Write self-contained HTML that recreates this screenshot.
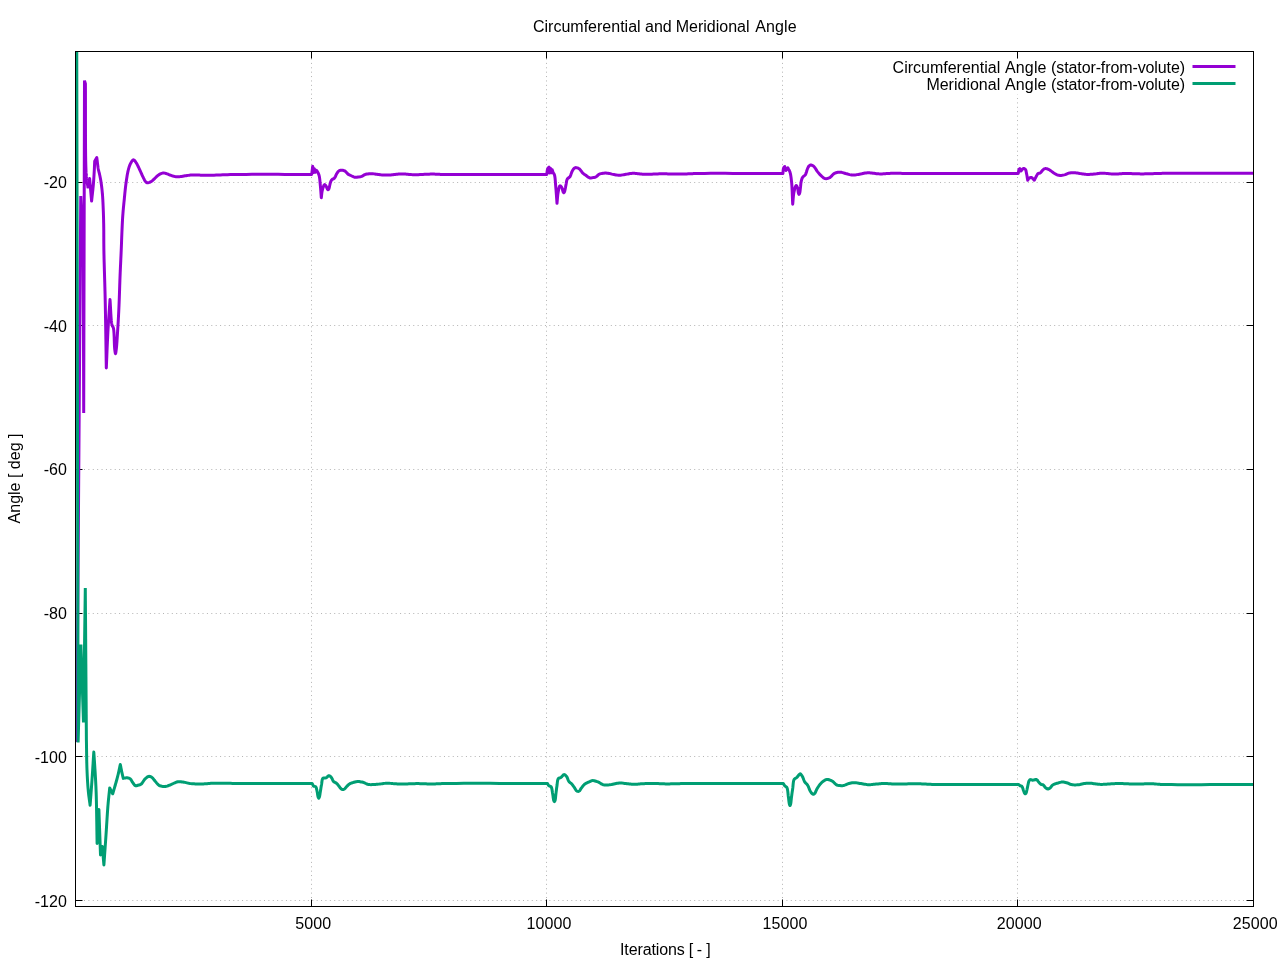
<!DOCTYPE html>
<html><head><meta charset="utf-8"><title>Circumferential and Meridional Angle</title>
<style>
html,body{margin:0;padding:0;background:#fff;}
body{width:1280px;height:960px;overflow:hidden;}
svg{display:block;will-change:transform;}
text{font-family:"Liberation Sans",sans-serif;font-size:16px;fill:#000;}
</style></head><body>
<svg width="1280" height="960" viewBox="0 0 1280 960">
<rect x="0" y="0" width="1280" height="960" fill="#ffffff"/>
<g stroke="#000" stroke-opacity="0.30" stroke-width="1" stroke-dasharray="1 3.39" fill="none">
<line x1="84.0" y1="182.5" x2="1246.5" y2="182.5"/>
<line x1="84.0" y1="325.5" x2="1246.5" y2="325.5"/>
<line x1="84.0" y1="469.5" x2="1246.5" y2="469.5"/>
<line x1="84.0" y1="613.5" x2="1246.5" y2="613.5"/>
<line x1="84.0" y1="756.5" x2="1246.5" y2="756.5"/>
<line x1="84.0" y1="900.5" x2="1246.5" y2="900.5"/>
<line x1="311.5" y1="898.0" x2="311.5" y2="58.5"/>
<line x1="546.5" y1="898.0" x2="546.5" y2="58.5"/>
<line x1="782.5" y1="898.0" x2="782.5" y2="58.5"/>
<line x1="1017.5" y1="898.0" x2="1017.5" y2="58.5"/>
</g>
<rect x="886" y="58.5" width="360" height="36" fill="#fff"/>
<g stroke="#000" stroke-width="1" fill="none">
<line x1="75.5" y1="182.5" x2="82.5" y2="182.5"/><line x1="1253.5" y1="182.5" x2="1246.5" y2="182.5"/>
<line x1="75.5" y1="325.5" x2="82.5" y2="325.5"/><line x1="1253.5" y1="325.5" x2="1246.5" y2="325.5"/>
<line x1="75.5" y1="469.5" x2="82.5" y2="469.5"/><line x1="1253.5" y1="469.5" x2="1246.5" y2="469.5"/>
<line x1="75.5" y1="613.5" x2="82.5" y2="613.5"/><line x1="1253.5" y1="613.5" x2="1246.5" y2="613.5"/>
<line x1="75.5" y1="756.5" x2="82.5" y2="756.5"/><line x1="1253.5" y1="756.5" x2="1246.5" y2="756.5"/>
<line x1="75.5" y1="900.5" x2="82.5" y2="900.5"/><line x1="1253.5" y1="900.5" x2="1246.5" y2="900.5"/>
<line x1="311.5" y1="906.5" x2="311.5" y2="899.5"/><line x1="311.5" y1="51.5" x2="311.5" y2="58.5"/>
<line x1="546.5" y1="906.5" x2="546.5" y2="899.5"/><line x1="546.5" y1="51.5" x2="546.5" y2="58.5"/>
<line x1="782.5" y1="906.5" x2="782.5" y2="899.5"/><line x1="782.5" y1="51.5" x2="782.5" y2="58.5"/>
<line x1="1017.5" y1="906.5" x2="1017.5" y2="899.5"/><line x1="1017.5" y1="51.5" x2="1017.5" y2="58.5"/>
<line x1="1253.5" y1="906.5" x2="1253.5" y2="899.5"/><line x1="1253.5" y1="51.5" x2="1253.5" y2="58.5"/>
</g>
<clipPath id="c"><rect x="75" y="51" width="1179" height="856"/></clipPath>
<g clip-path="url(#c)" fill="none" stroke-width="3" stroke-linejoin="round" stroke-linecap="butt">
<polyline stroke="#9400d3" stroke-linejoin="bevel" points="76.80,742.00 80.75,196.00 83.20,248.00 83.70,413.00 84.50,80.60 85.40,83.60 85.43,90.60 85.44,97.95 85.45,105.53 85.45,113.23 85.46,120.93 85.47,128.51 85.48,135.86 85.51,142.86 85.55,149.39 85.61,155.33 85.69,160.58 85.80,165.00 85.85,166.58 85.90,168.04 85.94,169.39 85.99,170.64 86.04,171.81 86.10,172.91 86.16,173.97 86.22,174.99 86.30,175.98 86.39,176.97 86.49,177.98 86.60,179.00 86.76,180.25 86.94,181.44 87.14,182.60 87.35,183.72 87.56,184.84 87.78,185.95 87.99,187.06 88.20,188.20"/>
<polyline stroke="#9400d3" points="88.20,188.20 89.60,178.40 91.60,201.00 91.74,199.66 91.89,198.31 92.04,196.96 92.19,195.61 92.35,194.25 92.50,192.90 92.64,191.55 92.79,190.21 92.93,188.88 93.06,187.57 93.18,186.28 93.30,185.00 93.41,183.76 93.50,182.54 93.60,181.32 93.69,180.12 93.77,178.93 93.85,177.75 93.92,176.58 94.00,175.42 94.07,174.27 94.13,173.13 94.20,172.00 94.27,170.77 94.33,169.55 94.39,168.36 94.44,167.17 94.49,166.00 94.54,164.83 94.59,163.66 94.65,162.48 94.70,161.30 96.80,157.60 96.94,158.73 97.08,159.88 97.22,161.05 97.35,162.22 97.49,163.38 97.63,164.53 97.78,165.65 97.93,166.73 98.08,167.77 98.25,168.75 98.48,169.90 98.72,170.97 98.97,171.99 99.22,172.98 99.47,173.98 99.70,175.00 99.92,176.01 100.12,177.00 100.32,177.99 100.52,179.00 100.71,180.08 100.90,181.25 101.05,182.22 101.20,183.24 101.34,184.31 101.49,185.42 101.64,186.56 101.78,187.73 101.92,188.92 102.05,190.12 102.17,191.33 102.29,192.54 102.40,193.75 102.50,194.99 102.60,196.25 102.68,197.54 102.76,198.83 102.84,200.14 102.90,201.46 102.97,202.79 103.03,204.12 103.09,205.45 103.14,206.77 103.20,208.09 103.25,209.40 103.30,210.69 103.35,211.96 103.40,213.21 103.44,214.45 103.48,215.70 103.52,216.95 103.55,218.22 103.58,219.51 103.61,220.82 103.64,222.17 103.67,223.56 103.70,225.00 103.73,226.91 103.75,228.86 103.77,230.84 103.78,232.87 103.78,234.95 103.79,237.08 103.79,239.25 103.80,241.48 103.82,243.77 103.84,246.12 103.86,248.53 103.90,251.00 103.97,254.52 104.05,258.18 104.15,261.98 104.26,265.90 104.37,269.92 104.50,274.04 104.62,278.24 104.75,282.50 104.87,286.83 104.99,291.19 105.10,295.59 105.20,300.00 105.31,305.28 105.41,310.69 105.51,316.22 105.60,321.84 105.69,327.54 105.78,333.30 105.87,339.10 105.95,344.92 106.04,350.74 106.12,356.54 106.21,362.30 106.30,368.00 106.44,364.82 106.58,361.62 106.71,358.40 106.85,355.18 106.98,351.95 107.11,348.74 107.25,345.54 107.39,342.36 107.54,339.21 107.68,336.09 107.84,333.02 108.00,330.00 108.15,327.34 108.31,324.72 108.47,322.14 108.63,319.58 108.80,317.05 108.97,314.54 109.14,312.04 109.32,309.54 109.49,307.05 109.66,304.54 109.83,302.03 110.00,299.50 110.16,301.71 110.30,304.04 110.43,306.47 110.56,308.93 110.69,311.40 110.83,313.83 110.97,316.16 111.13,318.37 111.30,320.40 111.51,322.21 111.74,323.76 112.00,325.00 112.46,326.13 112.96,326.90 113.40,328.00 113.62,329.12 113.80,330.56 113.94,332.26 114.05,334.14 114.14,336.16 114.22,338.25 114.28,340.36 114.34,342.42 114.41,344.37 114.49,346.16 114.58,347.72 114.70,349.00 114.89,350.60 115.09,352.09 115.30,353.18 115.50,353.60 115.70,353.16 115.91,352.05 116.11,350.56 116.30,349.00 116.41,348.02 116.52,346.94 116.63,345.77 116.73,344.52 116.83,343.20 116.93,341.83 117.02,340.41 117.12,338.96 117.21,337.48 117.31,335.99 117.40,334.49 117.50,333.00 117.62,331.12 117.74,329.20 117.87,327.22 117.99,325.21 118.11,323.15 118.23,321.07 118.35,318.95 118.46,316.80 118.58,314.63 118.69,312.43 118.80,310.22 118.90,308.00 119.02,305.39 119.12,302.69 119.23,299.92 119.33,297.09 119.43,294.24 119.53,291.37 119.62,288.51 119.71,285.68 119.81,282.89 119.90,280.17 120.00,277.53 120.10,275.00 120.18,273.03 120.26,271.14 120.34,269.32 120.42,267.54 120.50,265.80 120.59,264.06 120.67,262.33 120.75,260.57 120.83,258.78 120.92,256.93 121.01,255.01 121.10,253.00 121.22,250.25 121.34,247.31 121.46,244.23 121.58,241.05 121.70,237.81 121.83,234.54 121.96,231.29 122.10,228.10 122.24,225.01 122.39,222.05 122.54,219.27 122.70,216.70 122.81,215.08 122.93,213.54 123.04,212.07 123.16,210.66 123.29,209.28 123.41,207.95 123.54,206.63 123.67,205.33 123.80,204.02 123.93,202.71 124.06,201.37 124.20,200.00 124.34,198.60 124.47,197.19 124.61,195.78 124.75,194.36 124.89,192.94 125.03,191.53 125.18,190.12 125.33,188.72 125.49,187.34 125.65,185.97 125.82,184.62 126.00,183.30 126.17,182.12 126.33,180.94 126.50,179.75 126.68,178.57 126.86,177.40 127.04,176.25 127.23,175.12 127.43,174.02 127.64,172.95 127.85,171.92 128.07,170.94 128.30,170.00 128.64,168.73 128.97,167.53 129.33,166.39 129.71,165.33 130.13,164.33 130.60,163.40 131.26,162.22 132.00,161.06 132.76,160.17 133.50,159.80 134.14,160.05 134.77,160.72 135.40,161.61 136.00,162.50 136.57,163.38 137.11,164.35 137.63,165.39 138.17,166.51 138.75,167.70 139.18,168.59 139.64,169.58 140.12,170.64 140.61,171.74 141.11,172.85 141.60,173.96 142.09,175.04 142.55,176.05 142.99,176.98 143.40,177.80 143.96,178.91 144.46,179.91 144.96,180.78 145.50,181.50 146.36,182.33 147.30,182.80 148.37,182.70 149.50,182.30 150.31,181.98 151.12,181.57 152.00,181.00 152.71,180.43 153.48,179.71 154.31,178.90 155.15,178.04 155.98,177.20 156.77,176.43 157.50,175.80 158.29,175.18 159.02,174.64 159.74,174.19 160.50,173.80 161.56,173.39 162.65,173.11 163.75,173.00 164.84,173.13 165.93,173.44 167.00,173.80 168.00,174.17 168.97,174.59 170.00,175.00 170.95,175.35 171.95,175.70 172.97,176.03 174.00,176.30 175.02,176.51 176.05,176.67 177.10,176.77 178.20,176.80 179.29,176.74 180.41,176.59 181.57,176.40 182.77,176.19 184.00,176.00 185.04,175.85 186.09,175.69 187.15,175.52 188.25,175.36 189.40,175.21 190.61,175.09 191.90,175.00 193.03,174.96 194.20,174.94 195.42,174.95 196.68,174.98 197.99,175.02 199.32,175.07 200.70,175.13 202.10,175.18 203.54,175.23 205.00,175.27 206.49,175.30 208.00,175.30 210.00,175.28 212.01,175.24 214.06,175.18 216.14,175.11 218.28,175.03 220.48,174.95 222.75,174.86 225.11,174.78 227.56,174.69 230.12,174.62 232.80,174.55 235.60,174.50 240.62,174.44 246.10,174.39 251.97,174.37 258.17,174.35 264.63,174.35 271.29,174.35 278.08,174.36 284.93,174.38 291.79,174.39 298.58,174.40 305.24,174.40 311.70,174.40 312.70,166.20 313.50,172.60 314.40,168.80 315.30,172.30 316.40,170.30 316.90,170.90 317.40,171.60 317.83,172.37 318.29,173.27 318.72,174.32 319.10,175.50 319.32,176.44 319.51,177.50 319.68,178.64 319.82,179.85 319.95,181.11 320.06,182.40 320.17,183.69 320.28,184.96 320.40,186.20 320.51,187.33 320.61,188.47 320.70,189.62 320.79,190.77 320.88,191.92 320.96,193.08 321.04,194.24 321.13,195.39 321.21,196.55 321.30,197.70 321.44,196.59 321.57,195.45 321.69,194.32 321.82,193.19 321.97,192.09 322.16,191.02 322.40,190.00 322.76,188.69 323.18,187.28 323.64,185.99 324.12,185.03 324.60,184.60 325.43,185.16 326.20,186.30 326.62,187.21 326.95,188.21 327.30,189.00 327.64,189.47 328.00,189.70 328.41,189.49 328.80,189.00 329.12,188.18 329.36,187.12 329.60,186.00 329.83,185.01 330.05,183.96 330.29,182.93 330.60,182.00 330.99,181.10 331.44,180.30 332.00,179.60 332.75,179.12 333.61,178.75 334.40,178.20 334.92,177.47 335.38,176.56 335.80,175.56 336.23,174.57 336.70,173.70 337.24,172.85 337.79,172.04 338.37,171.33 339.00,170.80 339.75,170.47 340.55,170.33 341.40,170.30 342.54,170.35 343.76,170.57 344.90,171.00 345.73,171.64 346.49,172.50 347.23,173.38 348.00,174.10 348.90,174.65 349.82,175.07 350.80,175.50 351.73,175.97 352.72,176.47 353.72,176.92 354.70,177.20 355.80,177.26 356.89,177.15 358.00,177.00 358.92,176.91 359.87,176.80 360.81,176.65 361.70,176.40 362.76,175.85 363.77,175.16 364.80,174.60 365.84,174.27 366.90,174.06 368.00,173.90 368.93,173.79 369.89,173.72 370.88,173.69 371.90,173.70 372.88,173.76 373.89,173.88 374.93,174.02 375.97,174.17 377.00,174.30 378.01,174.43 379.03,174.56 380.05,174.69 381.04,174.81 382.00,174.90 382.99,174.98 383.93,175.04 384.87,175.08 385.90,175.10 386.82,175.09 387.79,175.06 388.79,175.01 389.83,174.95 390.90,174.88 392.00,174.80 393.03,174.71 394.09,174.58 395.17,174.44 396.29,174.30 397.43,174.16 398.59,174.04 399.78,173.95 401.00,173.90 402.08,173.90 403.19,173.94 404.31,174.00 405.46,174.09 406.63,174.19 407.81,174.30 409.02,174.41 410.24,174.51 411.47,174.60 412.73,174.66 414.00,174.70 415.41,174.70 416.86,174.68 418.36,174.64 419.89,174.58 421.44,174.51 423.00,174.43 424.56,174.35 426.11,174.28 427.64,174.21 429.14,174.15 430.59,174.11 432.00,174.10 433.21,174.11 434.33,174.12 435.36,174.15 436.36,174.19 437.36,174.24 438.38,174.29 439.46,174.33 440.62,174.38 441.92,174.43 443.36,174.47 445.00,174.50 450.10,174.56 456.38,174.60 463.66,174.62 471.77,174.62 480.55,174.62 489.83,174.60 499.45,174.58 509.23,174.56 519.02,174.54 528.64,174.52 537.92,174.51 546.70,174.50 546.87,173.45 547.01,172.33 547.16,171.21 547.32,170.15 547.53,169.23 547.80,168.50 548.37,167.77 549.00,167.20 549.60,173.00 550.40,168.20 551.40,172.80 552.20,169.80 552.52,170.67 552.85,171.54 553.20,172.40 553.63,173.19 554.09,173.98 554.50,175.00 554.69,175.78 554.86,176.69 555.00,177.69 555.12,178.78 555.22,179.95 555.32,181.16 555.41,182.41 555.50,183.68 555.59,184.95 555.70,186.20 555.82,187.50 555.93,188.84 556.04,190.22 556.15,191.63 556.26,193.07 556.36,194.52 556.47,195.99 556.57,197.47 556.68,198.94 556.79,200.41 556.89,201.86 557.00,203.30 557.11,202.15 557.22,200.98 557.32,199.80 557.41,198.61 557.52,197.43 557.62,196.27 557.74,195.13 557.87,194.04 558.03,192.99 558.20,192.00 558.44,190.72 558.69,189.38 558.97,188.08 559.27,186.97 559.61,186.17 560.00,185.80 560.59,186.01 561.24,186.69 561.80,187.50 562.19,188.42 562.47,189.53 562.72,190.62 563.00,191.50 563.37,192.30 563.75,192.70 564.14,192.41 564.50,191.80 564.78,191.02 564.99,190.04 565.20,189.00 565.40,188.01 565.58,186.95 565.78,185.84 566.00,184.70 566.18,183.73 566.34,182.66 566.52,181.57 566.74,180.52 567.03,179.58 567.40,178.80 568.14,178.09 569.00,177.59 569.80,176.90 570.33,175.98 570.80,174.85 571.22,173.62 571.65,172.43 572.10,171.40 572.71,170.28 573.34,169.28 574.00,168.50 574.74,167.90 575.60,167.60 576.39,167.63 577.29,167.84 578.23,168.21 579.10,168.70 579.87,169.38 580.59,170.27 581.29,171.24 581.98,172.19 582.70,173.00 583.46,173.65 584.22,174.22 584.99,174.75 585.80,175.30 586.74,176.02 587.72,176.80 588.71,177.47 589.70,177.90 590.81,177.98 591.91,177.82 593.00,177.60 594.03,177.45 595.03,177.26 596.00,176.90 596.77,176.35 597.50,175.61 598.23,174.88 599.00,174.30 599.96,173.88 600.95,173.61 602.00,173.40 602.96,173.25 603.96,173.15 604.99,173.10 606.00,173.10 607.02,173.16 608.04,173.27 609.04,173.43 610.00,173.60 610.99,173.85 611.93,174.14 613.00,174.40 613.92,174.58 614.95,174.76 616.04,174.93 617.17,175.07 618.30,175.17 619.40,175.20 620.50,175.15 621.59,175.03 622.70,174.86 623.80,174.67 624.90,174.48 626.00,174.30 627.06,174.12 628.09,173.92 629.12,173.72 630.18,173.53 631.29,173.38 632.50,173.30 633.48,173.29 634.50,173.33 635.56,173.41 636.66,173.52 637.80,173.64 638.96,173.78 640.14,173.92 641.34,174.05 642.55,174.16 643.78,174.25 645.00,174.30 646.33,174.32 647.70,174.31 649.10,174.28 650.53,174.23 651.98,174.17 653.44,174.11 654.90,174.04 656.36,173.97 657.80,173.91 659.23,173.85 660.63,173.82 662.00,173.80 663.21,173.80 664.41,173.82 665.60,173.84 666.77,173.87 667.93,173.90 669.08,173.94 670.24,173.98 671.38,174.02 672.53,174.05 673.68,174.08 674.84,174.09 676.00,174.10 677.19,174.10 678.40,174.09 679.64,174.07 680.88,174.05 682.13,174.03 683.37,174.00 684.58,173.97 685.77,173.94 686.91,173.90 688.01,173.87 689.04,173.83 690.00,173.80 691.06,173.75 691.93,173.70 692.72,173.65 693.57,173.59 694.62,173.54 696.00,173.50 699.69,173.44 704.61,173.40 710.59,173.37 717.45,173.37 725.01,173.37 733.11,173.39 741.55,173.41 750.17,173.43 758.80,173.46 767.24,173.48 775.34,173.49 782.90,173.50 783.02,172.34 783.11,171.12 783.21,169.93 783.36,168.86 783.60,168.00 784.12,167.17 784.70,166.50 786.00,170.50 787.80,167.80 788.34,168.78 788.90,169.73 789.43,170.74 789.90,171.90 790.18,172.84 790.43,173.84 790.65,174.91 790.84,176.03 791.02,177.22 791.18,178.48 791.34,179.81 791.50,181.20 791.66,182.75 791.79,184.44 791.91,186.22 792.02,188.10 792.11,190.05 792.20,192.05 792.28,194.09 792.36,196.15 792.44,198.21 792.52,200.25 792.61,202.25 792.70,204.20 792.81,203.08 792.91,201.93 793.00,200.76 793.09,199.59 793.19,198.43 793.28,197.27 793.39,196.14 793.51,195.04 793.65,193.97 793.81,192.96 794.00,192.00 794.31,190.64 794.66,189.20 795.04,187.82 795.43,186.65 795.82,185.83 796.20,185.50 796.69,185.90 797.18,186.89 797.60,188.00 797.83,188.93 797.99,190.02 798.11,191.15 798.23,192.18 798.40,193.00 798.69,193.87 799.00,194.30 799.36,193.88 799.70,193.00 799.89,192.23 800.03,191.28 800.16,190.22 800.27,189.10 800.40,188.00 800.53,186.91 800.64,185.75 800.75,184.55 800.88,183.37 801.04,182.24 801.25,181.20 801.55,180.02 801.89,178.90 802.29,177.88 802.80,177.00 803.55,176.30 804.41,175.75 805.20,175.00 805.67,174.16 806.08,173.11 806.45,171.96 806.80,170.78 807.14,169.68 807.50,168.75 807.98,167.68 808.46,166.75 809.00,166.00 809.74,165.34 810.60,165.00 811.47,165.07 812.44,165.41 813.40,166.00 814.02,166.58 814.63,167.33 815.25,168.22 815.86,169.17 816.47,170.14 817.08,171.07 817.70,171.90 818.47,172.84 819.25,173.76 820.03,174.64 820.81,175.46 821.60,176.20 822.44,176.95 823.29,177.66 824.14,178.24 825.00,178.60 826.01,178.66 827.04,178.47 828.00,178.20 829.11,177.86 830.20,177.30 830.92,176.70 831.67,175.90 832.45,175.03 833.23,174.22 834.00,173.60 834.98,173.09 835.97,172.75 837.00,172.50 837.87,172.33 838.77,172.21 839.71,172.16 840.70,172.20 841.61,172.34 842.56,172.58 843.56,172.88 844.57,173.21 845.59,173.53 846.60,173.80 847.61,174.06 848.62,174.34 849.64,174.61 850.67,174.84 851.72,175.01 852.80,175.10 853.87,175.09 854.97,174.99 856.10,174.83 857.24,174.62 858.38,174.41 859.50,174.19 860.60,174.00 861.75,173.79 862.86,173.55 863.95,173.30 865.06,173.08 866.23,172.90 867.50,172.80 868.50,172.79 869.55,172.83 870.65,172.92 871.78,173.04 872.94,173.19 874.12,173.34 875.31,173.50 876.51,173.64 877.69,173.76 878.86,173.85 880.00,173.90 881.09,173.91 882.16,173.88 883.22,173.84 884.28,173.78 885.33,173.70 886.39,173.62 887.47,173.54 888.56,173.46 889.67,173.39 890.82,173.33 892.00,173.30 893.37,173.28 894.78,173.28 896.22,173.28 897.69,173.30 899.19,173.32 900.71,173.35 902.25,173.38 903.79,173.42 905.35,173.45 906.90,173.47 908.46,173.49 910.00,173.50 911.58,173.50 913.11,173.50 914.59,173.50 916.06,173.49 917.54,173.48 919.05,173.47 920.61,173.45 922.24,173.44 923.98,173.43 925.83,173.42 927.83,173.41 930.00,173.40 935.16,173.39 941.09,173.38 947.67,173.38 954.79,173.38 962.35,173.38 970.23,173.38 978.33,173.39 986.54,173.39 994.76,173.39 1002.86,173.40 1010.74,173.40 1018.30,173.40 1018.45,172.36 1018.59,171.27 1018.76,170.27 1019.00,169.50 1019.38,168.99 1019.80,168.60 1021.00,171.00 1021.68,170.08 1022.36,169.15 1023.10,168.60 1024.25,168.62 1025.30,169.20 1025.76,169.95 1026.05,170.99 1026.27,172.18 1026.50,173.40 1026.72,174.45 1026.93,175.57 1027.12,176.74 1027.31,177.93 1027.50,179.13 1027.70,180.30 1028.16,179.46 1028.62,178.62 1029.20,178.00 1029.94,177.66 1030.78,177.51 1031.60,177.60 1032.30,178.01 1032.97,178.69 1033.63,179.47 1034.30,180.20 1034.76,179.30 1035.23,178.37 1035.70,177.46 1036.15,176.59 1036.60,175.80 1037.11,174.86 1037.61,174.01 1038.20,173.40 1039.17,173.20 1040.20,173.00 1040.88,172.40 1041.55,171.53 1042.22,170.63 1042.90,169.90 1043.63,169.32 1044.38,168.85 1045.20,168.60 1046.02,168.61 1046.91,168.79 1047.83,169.11 1048.75,169.50 1049.68,170.01 1050.63,170.66 1051.58,171.38 1052.52,172.08 1053.40,172.70 1054.23,173.24 1055.01,173.75 1055.79,174.21 1056.60,174.60 1057.68,175.02 1058.80,175.34 1060.00,175.50 1060.98,175.47 1062.04,175.34 1063.13,175.13 1064.20,174.87 1065.20,174.60 1066.17,174.25 1067.07,173.82 1067.99,173.41 1069.00,173.10 1069.95,172.93 1070.97,172.82 1072.04,172.76 1073.14,172.74 1074.23,172.76 1075.30,172.80 1076.36,172.90 1077.42,173.05 1078.48,173.24 1079.54,173.45 1080.58,173.64 1081.60,173.80 1082.69,173.95 1083.74,174.10 1084.78,174.24 1085.86,174.34 1087.00,174.40 1088.07,174.41 1089.20,174.39 1090.38,174.34 1091.57,174.28 1092.75,174.19 1093.90,174.10 1095.00,174.00 1096.02,173.88 1096.98,173.72 1097.91,173.56 1098.86,173.40 1099.88,173.28 1101.00,173.20 1102.00,173.19 1103.07,173.22 1104.20,173.29 1105.38,173.37 1106.60,173.48 1107.84,173.60 1109.10,173.71 1110.36,173.82 1111.60,173.90 1112.82,173.97 1114.00,174.00 1115.10,174.00 1116.19,173.97 1117.26,173.93 1118.33,173.88 1119.39,173.81 1120.46,173.74 1121.53,173.68 1122.62,173.61 1123.72,173.56 1124.85,173.52 1126.00,173.50 1127.25,173.50 1128.52,173.52 1129.82,173.55 1131.13,173.59 1132.46,173.64 1133.80,173.69 1135.15,173.74 1136.51,173.79 1137.88,173.83 1139.25,173.87 1140.63,173.89 1142.00,173.90 1143.48,173.89 1145.00,173.87 1146.55,173.83 1148.12,173.79 1149.69,173.74 1151.26,173.68 1152.82,173.63 1154.35,173.57 1155.84,173.52 1157.29,173.47 1158.68,173.43 1160.00,173.40 1161.19,173.38 1162.23,173.36 1163.19,173.35 1164.11,173.34 1165.05,173.33 1166.05,173.32 1167.18,173.31 1168.48,173.31 1170.00,173.30 1174.12,173.28 1179.22,173.28 1185.17,173.27 1191.82,173.27 1199.04,173.27 1206.68,173.27 1214.60,173.28 1222.66,173.28 1230.72,173.29 1238.64,173.30 1246.28,173.30 1253.50,173.30"/>
<polyline stroke="#009e73" stroke-linejoin="bevel" points="76.75,51.50 78.10,742.50 80.90,644.50 83.50,722.50 85.30,588.00 85.39,600.67 85.48,613.33 85.58,626.00 85.67,638.67 85.76,651.33 85.85,664.00 85.94,676.67 86.03,689.33 86.13,702.00 86.22,714.67 86.31,727.33 86.40,740.00"/>
<polyline stroke="#009e73" points="86.40,740.00 86.45,742.52 86.49,745.06 86.53,747.63 86.56,750.20 86.60,752.77 86.64,755.33 86.68,757.88 86.72,760.40 86.78,762.88 86.84,765.31 86.91,767.69 87.00,770.00 87.08,771.89 87.16,773.77 87.25,775.61 87.34,777.43 87.44,779.23 87.54,780.99 87.65,782.73 87.77,784.45 87.89,786.13 88.02,787.78 88.16,789.41 88.30,791.00 88.43,792.28 88.56,793.53 88.70,794.75 88.85,795.94 89.00,797.12 89.16,798.28 89.32,799.43 89.48,800.57 89.63,801.72 89.79,802.87 89.95,804.03 90.10,805.20 90.26,803.10 90.42,801.02 90.58,798.93 90.74,796.85 90.90,794.77 91.06,792.68 91.22,790.59 91.38,788.50 91.54,786.39 91.69,784.28 91.85,782.15 92.00,780.00 92.16,777.72 92.31,775.42 92.46,773.10 92.62,770.78 92.76,768.44 92.91,766.09 93.06,763.74 93.21,761.39 93.35,759.03 93.50,756.68 93.65,754.34 93.80,752.00 93.93,753.92 94.06,755.86 94.19,757.80 94.32,759.75 94.45,761.69 94.58,763.64 94.71,765.57 94.84,767.50 94.96,769.40 95.08,771.29 95.19,773.16 95.30,775.00 95.39,776.62 95.48,778.17 95.56,779.67 95.64,781.14 95.72,782.59 95.79,784.06 95.87,785.54 95.94,787.07 96.00,788.66 96.07,790.34 96.14,792.11 96.20,794.00 96.30,797.31 96.39,800.89 96.47,804.72 96.55,808.75 96.62,812.94 96.69,817.25 96.76,821.64 96.83,826.07 96.89,830.51 96.96,834.90 97.03,839.21 97.10,843.40 98.90,809.50 100.50,854.90 102.30,846.50 103.90,864.90 104.08,862.41 104.25,859.92 104.43,857.43 104.60,854.94 104.78,852.44 104.96,849.95 105.13,847.46 105.31,844.97 105.48,842.48 105.66,839.99 105.83,837.49 106.00,835.00 106.17,832.47 106.34,829.90 106.50,827.30 106.66,824.69 106.83,822.07 106.99,819.47 107.15,816.90 107.32,814.37 107.48,811.90 107.65,809.51 107.82,807.20 108.00,805.00 108.14,803.41 108.27,801.89 108.41,800.41 108.55,798.98 108.70,797.57 108.84,796.20 108.98,794.84 109.13,793.49 109.27,792.14 109.41,790.78 109.56,789.40 109.70,788.00 110.13,788.82 110.55,789.64 111.00,790.50 111.41,791.29 111.84,792.12 112.27,792.96 112.70,793.80 113.03,792.70 113.35,791.61 113.67,790.53 114.00,789.44 114.33,788.33 114.66,787.19 115.00,786.00 115.29,784.98 115.59,783.92 115.90,782.83 116.21,781.73 116.52,780.61 116.83,779.48 117.14,778.35 117.44,777.22 117.72,776.10 118.00,775.00 118.28,773.83 118.55,772.65 118.81,771.49 119.06,770.32 119.31,769.16 119.56,767.99 119.80,766.83 120.05,765.67 120.30,764.50 120.51,765.58 120.73,766.66 120.94,767.75 121.15,768.83 121.36,769.90 121.58,770.96 121.80,772.00 122.04,773.10 122.29,774.17 122.54,775.23 122.80,776.29 123.05,777.34 123.30,778.40 124.39,778.12 125.50,777.90 126.33,777.83 127.18,777.81 128.00,777.90 129.13,778.19 130.20,778.80 130.79,779.44 131.34,780.28 131.89,781.23 132.43,782.17 133.00,783.00 133.63,783.85 134.26,784.70 134.92,785.39 135.60,785.80 136.37,785.80 137.17,785.51 138.00,785.20 139.02,784.97 140.07,784.71 141.10,784.20 141.77,783.56 142.41,782.71 143.04,781.74 143.67,780.73 144.31,779.79 145.00,779.00 145.94,778.11 146.93,777.27 147.93,776.62 148.90,776.30 149.96,776.41 151.01,776.86 152.00,777.50 152.79,778.21 153.51,779.09 154.23,780.05 155.00,781.00 155.76,781.89 156.55,782.86 157.36,783.81 158.18,784.65 159.00,785.30 159.99,785.80 160.98,786.09 162.00,786.30 163.06,786.48 164.15,786.56 165.30,786.50 166.18,786.34 167.07,786.08 168.01,785.75 168.98,785.38 170.00,785.00 170.89,784.64 171.83,784.21 172.81,783.73 173.82,783.24 174.84,782.77 175.85,782.36 176.84,782.02 177.80,781.80 178.86,781.69 179.91,781.68 180.94,781.76 181.96,781.89 182.98,782.05 184.00,782.20 184.99,782.37 185.95,782.60 186.91,782.84 187.89,783.09 188.91,783.32 190.00,783.50 190.98,783.62 192.01,783.72 193.06,783.80 194.15,783.87 195.27,783.92 196.42,783.96 197.59,783.98 198.79,784.00 200.00,784.00 201.13,783.98 202.28,783.95 203.45,783.89 204.63,783.82 205.84,783.73 207.07,783.64 208.33,783.55 209.60,783.46 210.91,783.37 212.24,783.30 213.61,783.24 215.00,783.20 216.82,783.17 218.65,783.17 220.50,783.18 222.38,783.20 224.31,783.23 226.29,783.27 228.34,783.32 230.47,783.36 232.69,783.41 235.01,783.45 237.44,783.48 240.00,783.50 244.70,783.52 249.86,783.53 255.40,783.53 261.27,783.52 267.40,783.51 273.72,783.50 280.17,783.48 286.68,783.46 293.20,783.44 299.65,783.43 305.97,783.41 312.10,783.40 312.60,784.43 313.10,785.46 313.70,786.20 314.66,786.37 315.60,786.60 316.06,787.30 316.42,788.34 316.71,789.56 316.96,790.83 317.20,792.00 317.41,793.07 317.58,794.19 317.73,795.28 317.90,796.24 318.10,797.00 318.42,797.75 318.75,798.10 319.08,797.75 319.40,797.00 319.61,796.25 319.79,795.31 319.96,794.25 320.12,793.12 320.30,792.00 320.46,791.03 320.62,790.00 320.79,788.94 320.95,787.87 321.13,786.79 321.31,785.73 321.50,784.70 321.69,783.51 321.84,782.24 322.00,780.99 322.22,779.83 322.53,778.87 323.00,778.20 323.96,777.88 325.11,777.93 326.20,777.80 327.15,777.08 328.03,776.16 328.90,775.70 329.71,775.93 330.51,776.54 331.25,777.30 331.75,778.04 332.19,778.97 332.62,779.95 333.07,780.87 333.60,781.60 334.46,782.18 335.40,782.58 336.30,783.10 337.02,783.78 337.71,784.57 338.37,785.40 339.00,786.20 339.69,787.14 340.33,788.07 341.00,788.80 341.78,789.34 342.60,789.60 343.56,789.45 344.50,789.00 345.04,788.50 345.53,787.88 346.10,787.20 346.69,786.57 347.35,785.86 348.06,785.14 348.82,784.47 349.60,783.90 350.62,783.37 351.72,782.95 352.83,782.61 353.90,782.30 355.08,781.95 356.24,781.66 357.40,781.50 358.30,781.51 359.22,781.60 360.12,781.75 361.00,781.90 362.01,782.08 362.99,782.30 364.00,782.60 364.94,783.01 365.90,783.53 366.91,784.04 368.00,784.40 368.95,784.55 369.96,784.62 371.02,784.63 372.09,784.60 373.16,784.55 374.20,784.50 375.36,784.44 376.51,784.35 377.65,784.24 378.81,784.12 380.00,784.00 381.13,783.87 382.28,783.70 383.46,783.53 384.64,783.38 385.83,783.26 387.00,783.20 388.17,783.21 389.33,783.27 390.50,783.38 391.67,783.49 392.83,783.61 394.00,783.70 395.13,783.78 396.22,783.86 397.31,783.94 398.45,784.01 399.66,784.07 401.00,784.10 402.13,784.10 403.36,784.08 404.66,784.05 406.02,784.00 407.43,783.94 408.88,783.87 410.35,783.81 411.82,783.75 413.29,783.69 414.73,783.64 416.14,783.61 417.50,783.60 418.74,783.61 419.98,783.63 421.21,783.66 422.43,783.71 423.65,783.76 424.86,783.81 426.06,783.86 427.26,783.91 428.45,783.95 429.64,783.98 430.82,784.00 432.00,784.00 433.16,783.99 434.24,783.96 435.26,783.92 436.26,783.87 437.26,783.82 438.30,783.76 439.39,783.70 440.58,783.64 441.89,783.59 443.36,783.54 445.00,783.50 450.13,783.43 456.45,783.38 463.78,783.35 471.96,783.35 480.81,783.35 490.17,783.37 499.86,783.40 509.73,783.42 519.59,783.45 529.29,783.48 538.65,783.49 547.50,783.50 547.97,784.36 548.44,785.23 549.00,785.90 550.01,786.19 551.00,786.60 551.39,787.24 551.70,788.15 551.95,789.24 552.16,790.45 552.34,791.69 552.51,792.90 552.70,794.00 552.89,795.13 553.05,796.31 553.19,797.48 553.34,798.58 553.50,799.54 553.70,800.30 554.04,801.18 554.40,801.60 554.76,801.18 555.10,800.30 555.28,799.54 555.43,798.59 555.55,797.50 555.66,796.33 555.77,795.15 555.90,794.00 556.03,792.93 556.16,791.83 556.29,790.71 556.43,789.58 556.57,788.44 556.73,787.31 556.90,786.20 557.06,785.05 557.19,783.82 557.32,782.58 557.48,781.37 557.69,780.27 557.99,779.33 558.40,778.60 559.26,778.00 560.28,777.70 561.20,777.30 561.86,776.64 562.43,775.91 563.00,775.30 563.64,774.80 564.30,774.60 565.04,774.93 565.85,775.63 566.60,776.50 567.12,777.37 567.57,778.45 568.00,779.60 568.46,780.69 569.00,781.60 569.85,782.44 570.78,783.11 571.70,783.90 572.35,784.67 573.00,785.55 573.64,786.48 574.25,787.38 574.80,788.20 575.39,789.19 575.92,790.11 576.50,790.80 577.23,791.24 578.00,791.40 578.82,791.25 579.60,790.80 580.11,790.16 580.55,789.31 581.10,788.40 581.74,787.54 582.48,786.57 583.29,785.58 584.14,784.66 585.00,783.90 585.94,783.29 586.93,782.81 587.92,782.40 588.90,782.00 589.78,781.58 590.65,781.14 591.52,780.79 592.40,780.60 593.30,780.62 594.22,780.79 595.12,781.04 596.00,781.30 597.01,781.61 597.99,781.96 599.00,782.40 599.94,782.95 600.90,783.61 601.90,784.24 603.00,784.70 603.94,784.89 604.95,784.98 606.01,785.00 607.09,784.96 608.16,784.89 609.20,784.80 610.38,784.65 611.55,784.43 612.71,784.17 613.86,783.92 615.00,783.70 616.05,783.52 617.06,783.34 618.08,783.18 619.12,783.06 620.20,783.00 621.28,783.03 622.39,783.12 623.54,783.26 624.69,783.42 625.85,783.57 627.00,783.70 628.15,783.81 629.31,783.93 630.46,784.04 631.63,784.14 632.80,784.21 634.00,784.25 635.11,784.24 636.25,784.20 637.39,784.13 638.54,784.05 639.70,783.96 640.85,783.87 642.00,783.80 643.12,783.73 644.20,783.66 645.27,783.59 646.36,783.53 647.50,783.47 648.70,783.42 650.00,783.40 651.20,783.40 652.48,783.42 653.83,783.45 655.24,783.50 656.69,783.56 658.17,783.62 659.67,783.69 661.18,783.75 662.68,783.80 664.15,783.85 665.60,783.88 667.00,783.90 668.29,783.90 669.57,783.89 670.84,783.87 672.11,783.85 673.37,783.82 674.63,783.78 675.87,783.75 677.11,783.71 678.35,783.68 679.57,783.65 680.79,783.62 682.00,783.60 683.17,783.58 684.26,783.57 685.30,783.56 686.31,783.55 687.32,783.54 688.36,783.53 689.46,783.53 690.64,783.52 691.94,783.51 693.39,783.51 695.00,783.50 699.60,783.49 705.16,783.48 711.54,783.47 718.61,783.47 726.22,783.47 734.23,783.48 742.53,783.48 750.95,783.49 759.38,783.49 767.67,783.50 775.69,783.50 783.30,783.50 783.78,784.33 784.25,785.16 784.80,785.90 785.45,786.37 786.17,786.76 786.80,787.40 787.12,788.09 787.37,788.97 787.58,790.00 787.75,791.14 787.89,792.34 788.02,793.57 788.14,794.79 788.26,795.94 788.40,797.00 788.56,798.13 788.70,799.30 788.83,800.47 788.96,801.58 789.09,802.60 789.23,803.49 789.40,804.20 789.69,805.09 790.00,805.50 790.31,805.09 790.60,804.20 790.76,803.49 790.90,802.59 791.02,801.56 791.13,800.43 791.25,799.27 791.37,798.11 791.50,797.00 791.64,795.98 791.78,794.95 791.92,793.91 792.07,792.86 792.22,791.81 792.38,790.74 792.54,789.67 792.70,788.60 792.85,787.42 792.97,786.16 793.08,784.87 793.20,783.58 793.35,782.34 793.55,781.21 793.83,780.21 794.20,779.40 795.06,778.52 796.08,777.93 797.00,777.30 797.66,776.53 798.23,775.71 798.80,775.00 799.49,774.20 800.20,773.80 800.92,774.28 801.68,775.32 802.40,776.50 802.82,777.31 803.20,778.24 803.57,779.24 803.95,780.23 804.35,781.17 804.80,782.00 805.44,782.81 806.14,783.49 806.85,784.18 807.50,785.00 808.00,785.89 808.47,786.92 808.91,788.02 809.34,789.12 809.76,790.13 810.20,791.00 810.80,792.00 811.39,792.85 812.00,793.50 812.70,794.00 813.40,794.20 814.12,793.97 814.80,793.40 815.24,792.72 815.62,791.82 816.02,790.82 816.50,789.80 817.04,788.86 817.65,787.84 818.31,786.78 819.00,785.74 819.70,784.76 820.40,783.90 821.25,782.98 822.12,782.16 823.01,781.43 823.90,780.80 824.92,780.17 825.96,779.66 827.00,779.40 828.01,779.47 829.03,779.75 830.00,780.10 830.84,780.42 831.65,780.80 832.50,781.30 833.31,781.94 834.16,782.77 835.05,783.65 835.93,784.43 836.80,785.00 837.87,785.37 838.93,785.52 840.00,785.60 841.10,785.67 842.21,785.65 843.40,785.50 844.42,785.22 845.51,784.80 846.63,784.32 847.77,783.86 848.90,783.50 849.98,783.24 851.07,783.02 852.16,782.85 853.27,782.74 854.40,782.70 855.46,782.74 856.53,782.86 857.62,783.03 858.73,783.22 859.86,783.42 861.00,783.60 862.11,783.77 863.24,783.96 864.40,784.16 865.57,784.35 866.73,784.51 867.88,784.64 869.00,784.70 870.19,784.69 871.35,784.61 872.50,784.50 873.65,784.36 874.81,784.22 876.00,784.10 877.10,784.00 878.19,783.90 879.29,783.79 880.41,783.69 881.56,783.60 882.75,783.54 884.00,783.50 885.05,783.50 886.14,783.53 887.25,783.58 888.39,783.64 889.56,783.72 890.75,783.80 891.96,783.88 893.19,783.96 894.44,784.02 895.71,784.07 897.00,784.10 898.48,784.11 900.03,784.09 901.64,784.06 903.29,784.02 904.97,783.96 906.65,783.91 908.33,783.85 909.98,783.80 911.59,783.75 913.14,783.72 914.62,783.70 916.00,783.70 917.26,783.72 918.49,783.75 919.66,783.79 920.80,783.84 921.90,783.89 922.97,783.95 924.01,784.00 925.02,784.05 926.00,784.10 927.01,784.15 927.85,784.21 928.66,784.26 929.54,784.31 930.61,784.36 932.00,784.40 935.68,784.46 940.59,784.50 946.56,784.53 953.41,784.53 960.95,784.53 969.03,784.51 977.45,784.49 986.05,784.47 994.65,784.44 1003.08,784.42 1011.15,784.41 1018.70,784.40 1019.43,785.22 1020.20,785.90 1021.01,786.05 1021.80,786.30 1022.32,787.06 1022.75,788.18 1023.13,789.41 1023.50,790.50 1023.88,791.52 1024.23,792.48 1024.60,793.20 1024.95,793.62 1025.30,793.80 1025.66,793.62 1026.00,793.20 1026.31,792.48 1026.56,791.53 1026.80,790.50 1027.02,789.51 1027.23,788.45 1027.45,787.34 1027.70,786.20 1027.95,785.05 1028.21,783.78 1028.50,782.53 1028.82,781.42 1029.20,780.60 1029.74,779.94 1030.40,779.60 1031.45,779.83 1032.70,780.20 1033.64,780.08 1034.69,779.78 1035.72,779.54 1036.60,779.60 1037.36,780.20 1037.97,781.11 1038.60,782.00 1039.33,782.84 1040.09,783.66 1040.90,784.30 1041.69,784.57 1042.52,784.70 1043.30,785.00 1043.91,785.59 1044.46,786.36 1045.00,787.16 1045.60,787.80 1046.37,788.37 1047.19,788.82 1048.00,789.00 1048.78,788.81 1049.55,788.37 1050.30,787.80 1050.89,787.18 1051.42,786.43 1051.99,785.66 1052.70,785.00 1053.62,784.48 1054.69,784.04 1055.85,783.65 1057.01,783.31 1058.10,783.00 1059.19,782.66 1060.25,782.34 1061.31,782.10 1062.40,782.00 1063.40,782.05 1064.45,782.20 1065.50,782.44 1066.52,782.71 1067.50,783.00 1068.49,783.38 1069.42,783.84 1070.36,784.28 1071.40,784.60 1072.36,784.76 1073.40,784.86 1074.48,784.91 1075.58,784.91 1076.66,784.87 1077.70,784.80 1078.80,784.66 1079.87,784.44 1080.93,784.19 1082.00,783.95 1083.10,783.75 1084.12,783.61 1085.17,783.48 1086.24,783.36 1087.31,783.27 1088.37,783.21 1089.40,783.20 1090.54,783.25 1091.65,783.36 1092.76,783.51 1093.87,783.66 1095.00,783.80 1095.97,783.91 1096.94,784.04 1097.91,784.16 1098.90,784.27 1099.93,784.35 1101.00,784.40 1102.04,784.40 1103.12,784.37 1104.24,784.31 1105.39,784.23 1106.54,784.14 1107.71,784.05 1108.86,783.97 1110.00,783.90 1111.11,783.84 1112.19,783.78 1113.26,783.71 1114.34,783.65 1115.44,783.59 1116.57,783.55 1117.75,783.51 1119.00,783.50 1120.17,783.51 1121.40,783.54 1122.68,783.58 1123.99,783.64 1125.34,783.71 1126.71,783.78 1128.10,783.86 1129.50,783.93 1130.89,783.99 1132.28,784.04 1133.65,784.08 1135.00,784.10 1136.35,784.10 1137.74,784.08 1139.15,784.04 1140.58,783.99 1142.00,783.93 1143.41,783.88 1144.80,783.82 1146.15,783.77 1147.46,783.73 1148.71,783.70 1149.90,783.69 1151.00,783.70 1152.35,783.75 1153.59,783.83 1154.75,783.92 1155.86,784.02 1156.93,784.12 1158.00,784.20 1158.95,784.27 1159.76,784.33 1160.59,784.39 1161.62,784.45 1163.00,784.50 1166.62,784.57 1171.60,784.62 1177.74,784.65 1184.86,784.65 1192.76,784.65 1201.24,784.63 1210.11,784.60 1219.18,784.58 1228.25,784.55 1237.12,784.52 1245.60,784.51 1253.50,784.50"/>
</g>
<text x="67.1" y="187.8" text-anchor="end" style="letter-spacing:0.1px">-20</text>
<text x="67.1" y="331.8" text-anchor="end" style="letter-spacing:0.1px">-40</text>
<text x="67.1" y="474.8" text-anchor="end" style="letter-spacing:0.1px">-60</text>
<text x="67.1" y="618.8" text-anchor="end" style="letter-spacing:0.1px">-80</text>
<text x="67.1" y="762.8" text-anchor="end" style="letter-spacing:0.1px">-100</text>
<text x="67.1" y="906.8" text-anchor="end" style="letter-spacing:0.1px">-120</text>
<text x="313.3" y="928.8" text-anchor="middle" style="letter-spacing:0.1px">5000</text>
<text x="548.9" y="928.8" text-anchor="middle" style="letter-spacing:0.1px">10000</text>
<text x="784.9" y="928.8" text-anchor="middle" style="letter-spacing:0.1px">15000</text>
<text x="1019.2" y="928.8" text-anchor="middle" style="letter-spacing:0.1px">20000</text>
<text x="1255.2" y="928.8" text-anchor="middle" style="letter-spacing:0.1px">25000</text>
<rect x="75.5" y="51.5" width="1178.0" height="855.0" fill="none" stroke="#000" stroke-width="1"/>
<text x="1000.2" y="73" text-anchor="end">Circumferential</text><text x="1005.0" y="73" style="letter-spacing:0.15px">Angle</text><text x="1184.9" y="73" text-anchor="end" style="letter-spacing:-0.11px">(stator-from-volute)</text>
<text x="1000.2" y="90" text-anchor="end">Meridional</text><text x="1005.0" y="90" style="letter-spacing:0.15px">Angle</text><text x="1184.9" y="90" text-anchor="end" style="letter-spacing:-0.11px">(stator-from-volute)</text>
<line x1="1192.5" y1="66.5" x2="1235.5" y2="66.5" stroke="#9400d3" stroke-width="3"/>
<line x1="1192.5" y1="83.5" x2="1235.5" y2="83.5" stroke="#009e73" stroke-width="3"/>
<text x="533.0" y="31.5" style="letter-spacing:0px">Circumferential</text><text x="645.0" y="31.5" style="letter-spacing:0px">and</text><text x="675.7" y="31.5" style="letter-spacing:0px">Meridional</text><text x="755.2" y="31.5" style="letter-spacing:0.15px">Angle</text>
<text x="620.0" y="955" style="letter-spacing:-0.12px">Iterations</text><text x="688.8" y="955" style="letter-spacing:0px">[</text><text x="696.7" y="955" style="letter-spacing:0px">-</text><text x="706.2" y="955" style="letter-spacing:0px">]</text>
<text transform="translate(20,478.5) rotate(-90)" text-anchor="middle">Angle [ deg ]</text>
</svg>
</body></html>
